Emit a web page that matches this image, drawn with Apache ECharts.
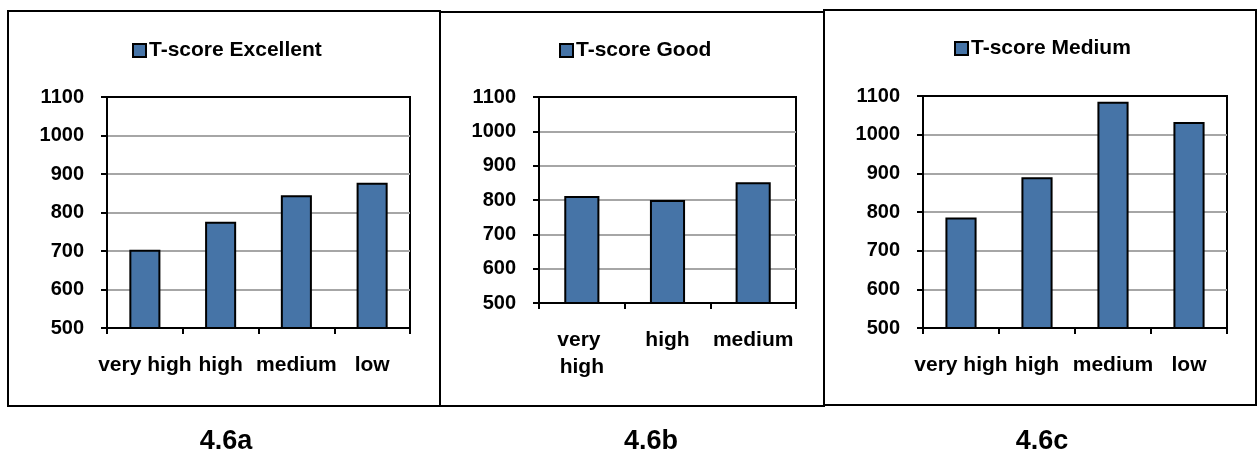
<!DOCTYPE html>
<html>
<head>
<meta charset="utf-8">
<script src="https://cdn.jsdelivr.net/npm/echarts@6/dist/echarts.min.js"></script>
<style>
  html, body { margin: 0; padding: 0; background: #fff; }
  #chart { width: 1260px; height: 454px; }
</style>
</head>
<body>
<div id="chart"></div>
<script>
// T-score by level, one panel per rating group
const categoriesA = ['very high', 'high', 'medium', 'low'];
const valuesA = [703, 776, 845, 877];

const categoriesB = ['very high', 'high', 'medium'];
const valuesB = [812, 800, 852];

const categoriesC = ['very high', 'high', 'medium', 'low'];
const valuesC = [786, 890, 1085, 1033];

const seriesNames = ['T-score Excellent', 'T-score Good', 'T-score Medium'];
const captions = ['4.6a', '4.6b', '4.6c'];
const yTicks = { min: 500, max: 1100, interval: 100 };

const FONT = '"Liberation Sans", Arial, Helvetica, sans-serif';
const BAR = '#4674A7';
const GRID_GRAY = '#a6a6a6';

const panels = [
  { cats: categoriesA, vals: valuesA, grid: { left: 107, top: 97, width: 303, height: 231 }, legend: { left: 132, top: 40 }, box: [8, 11, 432, 395], capX: 226 },
  { cats: categoriesB, vals: valuesB, grid: { left: 539, top: 97, width: 257, height: 206 }, legend: { left: 559, top: 40 }, box: [440, 12, 384, 394], capX: 651 },
  { cats: categoriesC, vals: valuesC, grid: { left: 923, top: 96, width: 304, height: 232 }, legend: { left: 954, top: 38 }, box: [824, 10, 432, 395], capX: 1042 }
];

// 7 horizontal lines from 500 to 1100; the top one doubles as the plot frame
const splitColors = [GRID_GRAY, GRID_GRAY, GRID_GRAY, GRID_GRAY, GRID_GRAY, GRID_GRAY, '#000'];

const option = {
  animation: false,
  backgroundColor: '#fff',
  textStyle: { fontFamily: FONT },
  grid: panels.map(p => Object.assign({
    show: true, borderColor: '#000', borderWidth: 2, backgroundColor: 'transparent'
  }, p.grid)),
  legend: panels.map((p, i) => ({
    left: p.legend.left, top: p.legend.top, padding: 0,
    data: [seriesNames[i]],
    icon: 'rect', itemWidth: 13, itemHeight: 13,
    itemStyle: { borderColor: '#000', borderWidth: 2 },
    textStyle: { fontFamily: FONT, fontSize: 21, fontWeight: 'bold', color: '#000', padding: [0, 0, 0, -2] },
    selectedMode: false
  })),
  xAxis: panels.map((p, i) => ({
    type: 'category', gridIndex: i, data: p.cats,
    boundaryGap: true,
    axisLine: { show: true, lineStyle: { color: '#000', width: 2 } },
    axisTick: { show: true, alignWithLabel: false, inside: false, length: 6, lineStyle: { color: '#000', width: 2 } },
    axisLabel: Object.assign({
      interval: 0, margin: 24, color: '#000',
      fontFamily: FONT, fontSize: 21, fontWeight: 'bold', lineHeight: 27
    }, i === 1 ? { width: 86, overflow: 'break' } : {}),
    splitLine: { show: false }
  })),
  yAxis: panels.map((p, i) => ({
    type: 'value', gridIndex: i,
    min: yTicks.min, max: yTicks.max, interval: yTicks.interval,
    axisLine: { show: true, lineStyle: { color: '#000', width: 2 } },
    axisTick: { show: true, inside: false, length: 6, lineStyle: { color: '#000', width: 2 } },
    axisLabel: {
      margin: 23, color: '#000', fontFamily: FONT, fontSize: 20, fontWeight: 'bold',
      formatter: v => String(v)
    },
    splitLine: { show: true, lineStyle: { color: splitColors, width: 2 } }
  })),
  series: panels.map((p, i) => ({
    name: seriesNames[i], type: 'bar',
    xAxisIndex: i, yAxisIndex: i,
    data: p.vals,
    barWidth: '41%',
    itemStyle: { color: BAR, borderColor: '#000', borderWidth: 2 },
    emphasis: { disabled: true }
  })),
  graphic: [].concat(
    panels.map(p => ({
      type: 'rect', silent: true, z: 10,
      shape: { x: p.box[0], y: p.box[1], width: p.box[2], height: p.box[3] },
      style: { fill: 'none', stroke: '#000', lineWidth: 2 }
    })),
    panels.map((p, i) => ({
      type: 'text', silent: true, z: 10,
      x: p.capX, y: 442,
      style: {
        text: captions[i], fill: '#000',
        font: 'bold 27px ' + FONT,
        textAlign: 'center', textVerticalAlign: 'middle'
      }
    }))
  )
};

const chart = echarts.init(document.getElementById('chart'), null, { renderer: 'canvas' });
chart.setOption(option);
</script>
</body>
</html>
